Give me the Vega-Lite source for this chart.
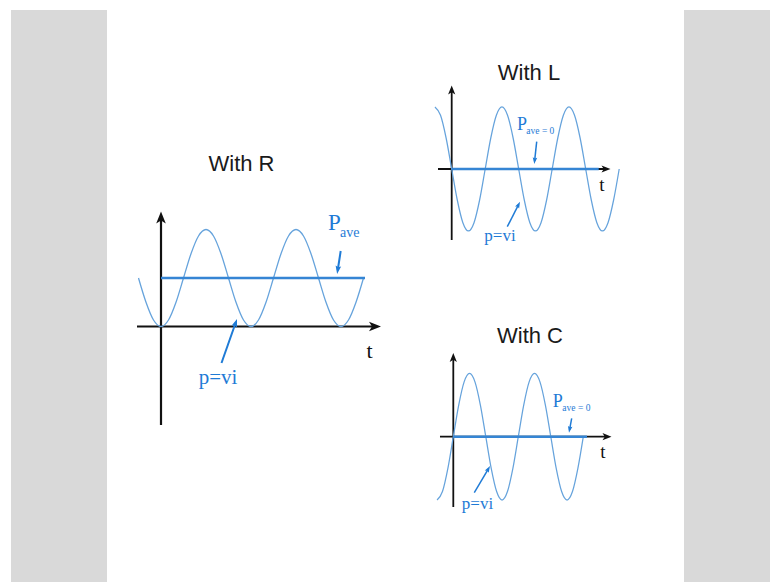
{
  "$schema": "https://vega.github.io/schema/vega-lite/v6.json",
  "background": "#ffffff",
  "padding": {"left": 11, "top": 10, "right": 0, "bottom": 0},
  "bounds": "flush",
  "spacing": 0,
  "config": {"view": {"stroke": null}},
  "datasets": {
    "withR": [
      {"part": "wave", "t": -90, "p": 1}, {"part": "wave", "t": -60, "p": 0.5}, {"part": "wave", "t": -30, "p": 0.134},
      {"part": "wave", "t": 0, "p": 0}, {"part": "wave", "t": 30, "p": 0.134}, {"part": "wave", "t": 60, "p": 0.5},
      {"part": "wave", "t": 90, "p": 1}, {"part": "wave", "t": 120, "p": 1.5}, {"part": "wave", "t": 150, "p": 1.866},
      {"part": "wave", "t": 180, "p": 2}, {"part": "wave", "t": 210, "p": 1.866}, {"part": "wave", "t": 240, "p": 1.5},
      {"part": "wave", "t": 270, "p": 1}, {"part": "wave", "t": 300, "p": 0.5}, {"part": "wave", "t": 330, "p": 0.134},
      {"part": "wave", "t": 360, "p": 0}, {"part": "wave", "t": 390, "p": 0.134}, {"part": "wave", "t": 420, "p": 0.5},
      {"part": "wave", "t": 450, "p": 1}, {"part": "wave", "t": 480, "p": 1.5}, {"part": "wave", "t": 510, "p": 1.866},
      {"part": "wave", "t": 540, "p": 2}, {"part": "wave", "t": 570, "p": 1.866}, {"part": "wave", "t": 600, "p": 1.5},
      {"part": "wave", "t": 630, "p": 1}, {"part": "wave", "t": 660, "p": 0.5}, {"part": "wave", "t": 690, "p": 0.134},
      {"part": "wave", "t": 720, "p": 0}, {"part": "wave", "t": 750, "p": 0.134}, {"part": "wave", "t": 780, "p": 0.5},
      {"part": "wave", "t": 810, "p": 1},
      {"part": "axis", "t": -96, "p": 0, "t2": 856, "p2": 0},
      {"part": "axis", "t": 0, "p": -2.031, "t2": 0, "p2": 2.247},
      {"part": "tipx", "t": 856, "p": 0},
      {"part": "tipy", "t": 0, "p": 2.247},
      {"part": "mean", "t": 0, "p": 1, "t2": 816, "p2": 1},
      {"part": "pointer", "t": 242, "p": -0.7526, "t2": 298.7, "p2": 0.0769},
      {"part": "pointer", "t": 718.8, "p": 1.5567, "t2": 707, "p2": 1.165},
      {"part": "head-vi", "t": 298.7, "p": 0.0769},
      {"part": "head-ave", "t": 707, "p": 1.165},
      {"part": "title", "t": 322, "p": 3.2165, "label": "With R"},
      {"part": "tlabel", "t": 834, "p": -0.6557, "label": "t"},
      {"part": "name", "t": 228, "p": -1.1856, "label": "p=vi"},
      {"part": "mean-name", "t": 668, "p": 1.9897, "label": "P"},
      {"part": "mean-sub", "t": 716, "p": 1.8557, "label": "ave"}
    ],
    "withL": [
      {"part": "wave", "t": -90, "p": 1}, {"part": "wave", "t": -60, "p": 0.866}, {"part": "wave", "t": -30, "p": 0.5},
      {"part": "wave", "t": 0, "p": 0}, {"part": "wave", "t": 30, "p": -0.5}, {"part": "wave", "t": 60, "p": -0.866},
      {"part": "wave", "t": 90, "p": -1}, {"part": "wave", "t": 120, "p": -0.866}, {"part": "wave", "t": 150, "p": -0.5},
      {"part": "wave", "t": 180, "p": 0}, {"part": "wave", "t": 210, "p": 0.5}, {"part": "wave", "t": 240, "p": 0.866},
      {"part": "wave", "t": 270, "p": 1}, {"part": "wave", "t": 300, "p": 0.866}, {"part": "wave", "t": 330, "p": 0.5},
      {"part": "wave", "t": 360, "p": 0}, {"part": "wave", "t": 390, "p": -0.5}, {"part": "wave", "t": 420, "p": -0.866},
      {"part": "wave", "t": 450, "p": -1}, {"part": "wave", "t": 480, "p": -0.866}, {"part": "wave", "t": 510, "p": -0.5},
      {"part": "wave", "t": 540, "p": 0}, {"part": "wave", "t": 570, "p": 0.5}, {"part": "wave", "t": 600, "p": 0.866},
      {"part": "wave", "t": 630, "p": 1}, {"part": "wave", "t": 660, "p": 0.866}, {"part": "wave", "t": 690, "p": 0.5},
      {"part": "wave", "t": 720, "p": 0}, {"part": "wave", "t": 750, "p": -0.5}, {"part": "wave", "t": 780, "p": -0.866},
      {"part": "wave", "t": 810, "p": -1}, {"part": "wave", "t": 840, "p": -0.866}, {"part": "wave", "t": 870, "p": -0.5},
      {"part": "wave", "t": 900, "p": 0},
      {"part": "axis", "t": -73.6, "p": 0, "t2": 829.1, "p2": 0},
      {"part": "axis", "t": 0, "p": -1.1452, "t2": 0, "p2": 1.2742},
      {"part": "tipx", "t": 829.1, "p": 0},
      {"part": "tipy", "t": 0, "p": 1.2742},
      {"part": "mean", "t": 0, "p": 0, "t2": 790, "p2": 0},
      {"part": "pointer", "t": 456.7, "p": 0.4403, "t2": 445.6, "p2": 0.1319},
      {"part": "pointer", "t": 298.7, "p": -0.9306, "t2": 359.2, "p2": -0.5734},
      {"part": "head-vi", "t": 359.2, "p": -0.5734},
      {"part": "head-ave", "t": 445.6, "p": 0.1319},
      {"part": "title", "t": 415.3, "p": 1.4355, "label": "With L"},
      {"part": "tlabel", "t": 807.6, "p": -0.3629, "label": "t"},
      {"part": "name", "t": 259.5, "p": -1.1613, "label": "p=vi"},
      {"part": "mean-name", "t": 351, "p": 0.629, "label": "P"},
      {"part": "mean-sub", "t": 401, "p": 0.5645, "label": "ave = 0"}
    ],
    "withC": [
      {"part": "wave", "t": -90, "p": -1}, {"part": "wave", "t": -60, "p": -0.866}, {"part": "wave", "t": -30, "p": -0.5},
      {"part": "wave", "t": 0, "p": 0}, {"part": "wave", "t": 30, "p": 0.5}, {"part": "wave", "t": 60, "p": 0.866},
      {"part": "wave", "t": 90, "p": 1}, {"part": "wave", "t": 120, "p": 0.866}, {"part": "wave", "t": 150, "p": 0.5},
      {"part": "wave", "t": 180, "p": 0}, {"part": "wave", "t": 210, "p": -0.5}, {"part": "wave", "t": 240, "p": -0.866},
      {"part": "wave", "t": 270, "p": -1}, {"part": "wave", "t": 300, "p": -0.866}, {"part": "wave", "t": 330, "p": -0.5},
      {"part": "wave", "t": 360, "p": 0}, {"part": "wave", "t": 390, "p": 0.5}, {"part": "wave", "t": 420, "p": 0.866},
      {"part": "wave", "t": 450, "p": 1}, {"part": "wave", "t": 480, "p": 0.866}, {"part": "wave", "t": 510, "p": 0.5},
      {"part": "wave", "t": 540, "p": 0}, {"part": "wave", "t": 570, "p": -0.5}, {"part": "wave", "t": 600, "p": -0.866},
      {"part": "wave", "t": 630, "p": -1}, {"part": "wave", "t": 660, "p": -0.866}, {"part": "wave", "t": 690, "p": -0.5},
      {"part": "wave", "t": 720, "p": 0},
      {"part": "axis", "t": -73.7, "p": 0, "t2": 851.2, "p2": 0},
      {"part": "axis", "t": 0, "p": -1.1106, "t2": 0, "p2": 1.2512},
      {"part": "tipx", "t": 851.2, "p": 0},
      {"part": "tipy", "t": 0, "p": 1.2512},
      {"part": "mean", "t": 0, "p": 0, "t2": 740.5, "p2": 0},
      {"part": "pointer", "t": 655.7, "p": 0.2907, "t2": 644.1, "p2": 0.113},
      {"part": "pointer", "t": 116.3, "p": -0.8847, "t2": 194.3, "p2": -0.5065},
      {"part": "head-vi", "t": 194.3, "p": -0.5065},
      {"part": "head-ave", "t": 644.1, "p": 0.113},
      {"part": "title", "t": 424.8, "p": 1.4755, "label": "With C"},
      {"part": "tlabel", "t": 829.1, "p": -0.3365, "label": "t"},
      {"part": "name", "t": 134.0, "p": -1.1422, "label": "p=vi"},
      {"part": "mean-name", "t": 551, "p": 0.4739, "label": "P"},
      {"part": "mean-sub", "t": 604, "p": 0.4139, "label": "ave = 0"}
    ]
  },
  "hconcat": [
    {
      "width": 96, "height": 572,
      "view": {"fill": "#d9d9d9", "stroke": null},
      "data": {"values": []},
      "mark": "point",
      "encoding": {}
    },
    {
      "width": 577, "height": 572,
      "view": {"fill": "#ffffff", "stroke": null},
      "resolve": {"scale": {"x": "independent", "y": "independent"}},
      "layer": [
        {
          "data": {"name": "withR"},
          "encoding": {
            "x": {"field": "t", "type": "quantitative", "scale": {"domain": [-216, 2092], "nice": false, "zero": false}, "axis": null},
            "y": {"field": "p", "type": "quantitative", "scale": {"domain": [-5.268, 6.5258], "nice": false, "zero": false}, "axis": null}
          },
          "layer": [
            {"transform": [{"filter": "datum.part === 'axis'"}], "mark": {"type": "rule", "color": "#111111", "strokeWidth": 2.2},
             "encoding": {"x2": {"field": "t2"}, "y2": {"field": "p2"}}},
            {"transform": [{"filter": "datum.part === 'tipx'"}], "mark": {"type": "point", "shape": "M1,0L-1,-0.8L-0.5,0L-1,0.8Z", "filled": true, "opacity": 1, "color": "#111111", "size": 144, "angle": 0}},
            {"transform": [{"filter": "datum.part === 'tipy'"}], "mark": {"type": "point", "shape": "M1,0L-1,-0.8L-0.5,0L-1,0.8Z", "filled": true, "opacity": 1, "color": "#111111", "size": 144, "angle": -90}},
            {"transform": [{"filter": "datum.part === 'wave'"}], "mark": {"type": "line", "interpolate": "monotone", "color": "#66a3dc", "strokeWidth": 1.3}},
            {"transform": [{"filter": "datum.part === 'mean'"}], "mark": {"type": "rule", "color": "#3585d4", "strokeWidth": 2.6},
             "encoding": {"x2": {"field": "t2"}, "y2": {"field": "p2"}}},
            {"transform": [{"filter": "datum.part === 'pointer'"}], "mark": {"type": "rule", "color": "#1f7bd6", "strokeWidth": 2},
             "encoding": {"x2": {"field": "t2"}, "y2": {"field": "p2"}}},
            {"transform": [{"filter": "datum.part === 'head-vi'"}], "mark": {"type": "point", "shape": "M1,0L-1,-0.7L-0.7,0L-1,0.7Z", "filled": true, "opacity": 1, "color": "#1f7bd6", "size": 64, "angle": -70.6}},
            {"transform": [{"filter": "datum.part === 'head-ave'"}], "mark": {"type": "point", "shape": "M1,0L-1,-0.7L-0.7,0L-1,0.7Z", "filled": true, "opacity": 1, "color": "#1f7bd6", "size": 64, "angle": 99}},
            {"transform": [{"filter": "datum.part === 'title'"}], "mark": {"type": "text", "font": "Liberation Sans", "fontSize": 22, "align": "center", "baseline": "alphabetic", "color": "#1a1a1a"},
             "encoding": {"text": {"field": "label"}}},
            {"transform": [{"filter": "datum.part === 'tlabel'"}], "mark": {"type": "text", "font": "Liberation Serif", "fontSize": 22, "align": "center", "baseline": "alphabetic", "color": "#111111"},
             "encoding": {"text": {"field": "label"}}},
            {"transform": [{"filter": "datum.part === 'name'"}], "mark": {"type": "text", "font": "Liberation Serif", "fontSize": 21, "align": "center", "baseline": "alphabetic", "color": "#1f7bd6"},
             "encoding": {"text": {"field": "label"}}},
            {"transform": [{"filter": "datum.part === 'mean-name'"}], "mark": {"type": "text", "font": "Liberation Serif", "fontSize": 23, "align": "left", "baseline": "alphabetic", "color": "#1f7bd6"},
             "encoding": {"text": {"field": "label"}}},
            {"transform": [{"filter": "datum.part === 'mean-sub'"}], "mark": {"type": "text", "font": "Liberation Serif", "fontSize": 14, "align": "left", "baseline": "alphabetic", "color": "#1f7bd6"},
             "encoding": {"text": {"field": "label"}}}
          ]
        },
        {
          "data": {"name": "withL"},
          "encoding": {
            "x": {"field": "t", "type": "quantitative", "scale": {"domain": [-1852.1, 1248.2], "nice": false, "zero": false}, "axis": null},
            "y": {"field": "p", "type": "quantitative", "scale": {"domain": [-6.6613, 2.5645], "nice": false, "zero": false}, "axis": null}
          },
          "layer": [
            {"transform": [{"filter": "datum.part === 'axis'"}], "mark": {"type": "rule", "color": "#111111", "strokeWidth": 1.8},
             "encoding": {"x2": {"field": "t2"}, "y2": {"field": "p2"}}},
            {"transform": [{"filter": "datum.part === 'tipx'"}], "mark": {"type": "point", "shape": "M1,0L-1,-0.8L-0.5,0L-1,0.8Z", "filled": true, "opacity": 1, "color": "#111111", "size": 81, "angle": 0}},
            {"transform": [{"filter": "datum.part === 'tipy'"}], "mark": {"type": "point", "shape": "M1,0L-1,-0.8L-0.5,0L-1,0.8Z", "filled": true, "opacity": 1, "color": "#111111", "size": 81, "angle": -90}},
            {"transform": [{"filter": "datum.part === 'wave'"}], "mark": {"type": "line", "interpolate": "monotone", "color": "#66a3dc", "strokeWidth": 1.25}},
            {"transform": [{"filter": "datum.part === 'mean'"}], "mark": {"type": "rule", "color": "#3585d4", "strokeWidth": 2.4},
             "encoding": {"x2": {"field": "t2"}, "y2": {"field": "p2"}}},
            {"transform": [{"filter": "datum.part === 'pointer'"}], "mark": {"type": "rule", "color": "#1f7bd6", "strokeWidth": 1.5},
             "encoding": {"x2": {"field": "t2"}, "y2": {"field": "p2"}}},
            {"transform": [{"filter": "datum.part === 'head-vi'"}], "mark": {"type": "point", "shape": "M1,0L-1,-0.7L-0.7,0L-1,0.7Z", "filled": true, "opacity": 1, "color": "#1f7bd6", "size": 42, "angle": -63.1}},
            {"transform": [{"filter": "datum.part === 'head-ave'"}], "mark": {"type": "point", "shape": "M1,0L-1,-0.7L-0.7,0L-1,0.7Z", "filled": true, "opacity": 1, "color": "#1f7bd6", "size": 42, "angle": 96.1}},
            {"transform": [{"filter": "datum.part === 'title'"}], "mark": {"type": "text", "font": "Liberation Sans", "fontSize": 22, "align": "center", "baseline": "alphabetic", "color": "#1a1a1a"},
             "encoding": {"text": {"field": "label"}}},
            {"transform": [{"filter": "datum.part === 'tlabel'"}], "mark": {"type": "text", "font": "Liberation Serif", "fontSize": 19, "align": "center", "baseline": "alphabetic", "color": "#111111"},
             "encoding": {"text": {"field": "label"}}},
            {"transform": [{"filter": "datum.part === 'name'"}], "mark": {"type": "text", "font": "Liberation Serif", "fontSize": 17, "align": "center", "baseline": "alphabetic", "color": "#1f7bd6"},
             "encoding": {"text": {"field": "label"}}},
            {"transform": [{"filter": "datum.part === 'mean-name'"}], "mark": {"type": "text", "font": "Liberation Serif", "fontSize": 18, "align": "left", "baseline": "alphabetic", "color": "#1f7bd6"},
             "encoding": {"text": {"field": "label"}}},
            {"transform": [{"filter": "datum.part === 'mean-sub'"}], "mark": {"type": "text", "font": "Liberation Serif", "fontSize": 9.5, "align": "left", "baseline": "alphabetic", "color": "#1f7bd6"},
             "encoding": {"text": {"field": "label"}}}
          ]
        },
        {
          "data": {"name": "withC"},
          "encoding": {
            "x": {"field": "t", "type": "quantitative", "scale": {"domain": [-1917.9, 1277.7], "nice": false, "zero": false}, "axis": null},
            "y": {"field": "p", "type": "quantitative", "scale": {"domain": [-2.2954, 6.7409], "nice": false, "zero": false}, "axis": null}
          },
          "layer": [
            {"transform": [{"filter": "datum.part === 'axis'"}], "mark": {"type": "rule", "color": "#111111", "strokeWidth": 1.8},
             "encoding": {"x2": {"field": "t2"}, "y2": {"field": "p2"}}},
            {"transform": [{"filter": "datum.part === 'tipx'"}], "mark": {"type": "point", "shape": "M1,0L-1,-0.8L-0.5,0L-1,0.8Z", "filled": true, "opacity": 1, "color": "#111111", "size": 81, "angle": 0}},
            {"transform": [{"filter": "datum.part === 'tipy'"}], "mark": {"type": "point", "shape": "M1,0L-1,-0.8L-0.5,0L-1,0.8Z", "filled": true, "opacity": 1, "color": "#111111", "size": 81, "angle": -90}},
            {"transform": [{"filter": "datum.part === 'wave'"}], "mark": {"type": "line", "interpolate": "monotone", "color": "#66a3dc", "strokeWidth": 1.25}},
            {"transform": [{"filter": "datum.part === 'mean'"}], "mark": {"type": "rule", "color": "#3585d4", "strokeWidth": 2.4},
             "encoding": {"x2": {"field": "t2"}, "y2": {"field": "p2"}}},
            {"transform": [{"filter": "datum.part === 'pointer'"}], "mark": {"type": "rule", "color": "#1f7bd6", "strokeWidth": 1.5},
             "encoding": {"x2": {"field": "t2"}, "y2": {"field": "p2"}}},
            {"transform": [{"filter": "datum.part === 'head-vi'"}], "mark": {"type": "point", "shape": "M1,0L-1,-0.7L-0.7,0L-1,0.7Z", "filled": true, "opacity": 1, "color": "#1f7bd6", "size": 42, "angle": -59.5}},
            {"transform": [{"filter": "datum.part === 'head-ave'"}], "mark": {"type": "point", "shape": "M1,0L-1,-0.7L-0.7,0L-1,0.7Z", "filled": true, "opacity": 1, "color": "#1f7bd6", "size": 42, "angle": 100.6}},
            {"transform": [{"filter": "datum.part === 'title'"}], "mark": {"type": "text", "font": "Liberation Sans", "fontSize": 22, "align": "center", "baseline": "alphabetic", "color": "#1a1a1a"},
             "encoding": {"text": {"field": "label"}}},
            {"transform": [{"filter": "datum.part === 'tlabel'"}], "mark": {"type": "text", "font": "Liberation Serif", "fontSize": 19, "align": "center", "baseline": "alphabetic", "color": "#111111"},
             "encoding": {"text": {"field": "label"}}},
            {"transform": [{"filter": "datum.part === 'name'"}], "mark": {"type": "text", "font": "Liberation Serif", "fontSize": 17, "align": "center", "baseline": "alphabetic", "color": "#1f7bd6"},
             "encoding": {"text": {"field": "label"}}},
            {"transform": [{"filter": "datum.part === 'mean-name'"}], "mark": {"type": "text", "font": "Liberation Serif", "fontSize": 18, "align": "left", "baseline": "alphabetic", "color": "#1f7bd6"},
             "encoding": {"text": {"field": "label"}}},
            {"transform": [{"filter": "datum.part === 'mean-sub'"}], "mark": {"type": "text", "font": "Liberation Serif", "fontSize": 9.5, "align": "left", "baseline": "alphabetic", "color": "#1f7bd6"},
             "encoding": {"text": {"field": "label"}}}
          ]
        }
      ]
    },
    {
      "width": 86, "height": 572,
      "view": {"fill": "#d9d9d9", "stroke": null},
      "data": {"values": []},
      "mark": "point",
      "encoding": {}
    }
  ]
}
